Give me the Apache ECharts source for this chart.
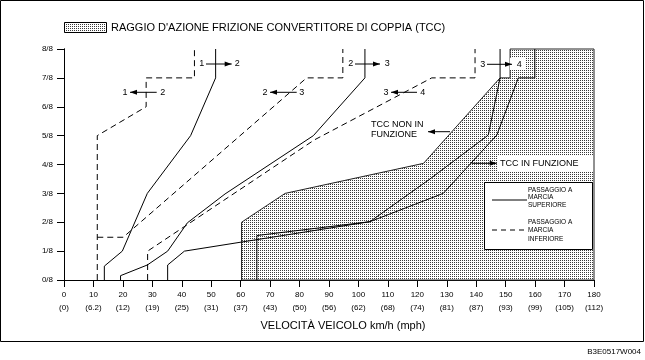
<!DOCTYPE html>
<html><head><meta charset="utf-8">
<script src="https://cdn.jsdelivr.net/npm/echarts@6/dist/echarts.min.js"></script>
<style>html,body{margin:0;padding:0;background:#fff}#c{width:645px;height:360px}</style>
</head><body><div id="c"></div>
<script>
// ---- data (speed km/h, throttle in eighths) ----
const mphTicks = ['0','6.2','12','19','25','31','37','43','50','56','62','68','74','81','87','93','99','105','112'];
const throttleTicks = ['0/8','1/8','2/8','3/8','4/8','5/8','6/8','7/8','8/8'];
const up12   = [[13.7,0],[13.7,0.48],[19.8,1.0],[28.3,3.0],[43.0,5.0],[51.5,7.0],[51.5,8]];
const down12 = [[11.3,0],[11.3,5.0],[27.9,6.0],[27.9,7.0],[44.3,7.0],[44.3,8]];
const up23   = [[19.2,0],[19.2,0.15],[28.3,0.52],[35.2,1.0],[41.9,1.98],[54.7,2.98],[84.7,5.0],[102.2,7.0],[102.2,8]];
const down23 = [[11.3,1.48],[20.1,1.48],[82.4,7.0],[94.7,7.0],[94.7,8]];
const up34   = [[35.2,0],[35.2,0.52],[40.9,1.0],[103.9,2.02],[124.3,3.5],[144.1,5.02],[148.1,7.0],[148.1,8]];
const down34 = [[28.4,0],[28.4,1.0],[85,4.85],[124.9,7.0],[139.6,7.0],[139.6,8]];
const tccLine = [[65.5,0],[65.5,1.54],[103.9,2.02],[128.8,3.0],[147,5.02],[154.3,7.0],[159.9,7.0],[159.9,8]];
const tccRange = [[60.3,0],[60.3,2.0],[75.1,3.0],[122.1,4.04],[148.1,7.0],[151.5,7.0],[151.5,8],[180,8],[180,0]];

function makePattern(){
  const c=document.createElement('canvas'); c.width=2; c.height=2;
  const g=c.getContext('2d'); g.fillStyle='#fff'; g.fillRect(0,0,2,2);
  g.fillStyle='#3a3a3a'; g.fillRect(0,0,1,1);
  return c;
}
const pat = {image: makePattern(), repeat:'repeat'};
const FONT = '"Liberation Sans", Arial, Helvetica, sans-serif';

function lineSeries(data, dashed){
  return {type:'line', data, symbol:'none', silent:true, animation:false, z:4,
    lineStyle:{color:'#000', width:1, type: dashed ? [6,4] : 'solid'}};
}
function txt(x,y,t,size,align){
  return {type:'text', z:100, x:x, y:y, style:{text:t, font:size+'px '+FONT, fill:'#000',
    textAlign:align||'center', textVerticalAlign:'middle', align:align||'center', verticalAlign:'middle'}};
}
function arrow(x1,x2,y,head){
  const hx = head==='right'?x2:x1, d = head==='right'?1:-1;
  return [
    {type:'line', z:100, shape:{x1:x1,y1:y,x2:x2,y2:y}, style:{stroke:'#000', lineWidth:1}},
    {type:'polygon', z:100, shape:{points:[[hx,y],[hx-d*7,y-2.5],[hx-d*7,y+2.5]]}, style:{fill:'#000'}}
  ];
}
function shift(a,b,y,xa,x1,x2,xb,head){
  return [txt(xa,y,a,9)].concat(arrow(x1,x2,y,head)).concat([txt(xb,y,b,9)]);
}

const chart = echarts.init(document.getElementById('c'), null, {renderer:'canvas'});
const graphics = [
  {type:'rect', z:100, shape:{x:0.5,y:0.5,width:643,height:341}, style:{fill:'none', stroke:'#000', lineWidth:1}},
  {type:'rect', z:100, shape:{x:64.5,y:22.5,width:42,height:10}, style:{fill:pat, stroke:'#000', lineWidth:1}},
  txt(111,28,"RAGGIO D'AZIONE FRIZIONE CONVERTITORE DI COPPIA (TCC)",11,'left'),
  txt(343,326,'VELOCITÀ VEICOLO km/h (mph)',11),
  txt(641,352,'B3E0517W004',8,'right'),
  // TCC labels
  txt(371,125,'TCC NON IN',9,'left'),
  txt(371,134.5,'FUNZIONE',9,'left'),
  {type:'rect', z:99, shape:{x:497,y:155,width:96,height:17}, style:{fill:'#fff'}},
  txt(500,163.5,'TCC IN FUNZIONE',9,'left'),
  {type:'rect', z:99, shape:{x:510,y:58,width:16,height:12}, style:{fill:'#fff'}},
  // legend box
  {type:'rect', z:99, shape:{x:484.5,y:182.5,width:108,height:67}, style:{fill:'#fff', stroke:'#000', lineWidth:1}},
  {type:'line', z:100, shape:{x1:492,y1:200,x2:527,y2:200}, style:{stroke:'#000', lineWidth:1}},
  {type:'line', z:100, shape:{x1:492,y1:230,x2:527,y2:230}, style:{stroke:'#000', lineWidth:1, lineDash:[5,4]}},
  txt(528,190,'PASSAGGIO A',6.5,'left'), txt(528,197.5,'MARCIA',6.5,'left'), txt(528,205,'SUPERIORE',6.5,'left'),
  txt(528,222.5,'PASSAGGIO A',6.5,'left'), txt(528,230.5,'MARCIA',6.5,'left'), txt(528,239,'INFERIORE',6.5,'left')
]
.concat(arrow(428,450,131.7,'left'))
.concat(arrow(471.7,496.7,163.3,'right'))
.concat(shift('1','2',64,201.7,206,231.7,237.3,'right'))
.concat(shift('1','2',92.3,125,130,156.7,162.7,'left'))
.concat(shift('2','3',64,350.7,355,380,387.3,'right'))
.concat(shift('2','3',92.3,265,270,296.7,301.7,'left'))
.concat(shift('3','4',92.3,386,391,417,422.7,'left'))
.concat(shift('3','4',64.3,482.7,487,512,519.3,'right'));

chart.setOption({
  animation:false,
  grid:{left:64, right:51, top:49, bottom:80},
  xAxis:[
    {type:'value', min:0, max:180, interval:10, position:'bottom',
     axisLine:{lineStyle:{color:'#000', width:1}},
     axisTick:{show:true, length:7, lineStyle:{color:'#000'}},
     splitLine:{show:false},
     axisLabel:{color:'#000', fontSize:8, fontFamily:FONT, margin:8, lineHeight:13,
       formatter:(v)=> v + '\n(' + mphTicks[Math.round(v/10)] + ')'}},
    {type:'value', min:0, max:180, position:'top', axisLine:{show:true, lineStyle:{color:'#000'}},
     axisTick:{show:false}, axisLabel:{show:false}, splitLine:{show:false}}
  ],
  yAxis:[
    {type:'value', min:0, max:8, interval:1, position:'left',
     axisLine:{show:true, lineStyle:{color:'#000', width:1}},
     axisTick:{show:true, length:7, lineStyle:{color:'#000'}},
     splitLine:{show:false},
     axisLabel:{color:'#000', fontSize:8, fontFamily:FONT, margin:11,
       formatter:(v)=> throttleTicks[Math.round(v)]}},
    {type:'value', min:0, max:8, position:'right', axisLine:{show:true, lineStyle:{color:'#000'}},
     axisTick:{show:false}, axisLabel:{show:false}, splitLine:{show:false}}
  ],
  series:[
    {type:'custom', silent:true, z:1, data:[[0,0]],
     renderItem:(params, api)=>{
       const pts = tccRange.map(p=>api.coord(p));
       return {type:'polygon', shape:{points:pts}, style:{fill:pat, stroke:'#222', lineWidth:1}};
     }},
    lineSeries(up12,false), lineSeries(down12,true),
    lineSeries(up23,false), lineSeries(down23,true),
    lineSeries(up34,false), lineSeries(down34,true),
    lineSeries(tccLine,false)
  ],
  graphic: graphics
});
</script></body></html>
